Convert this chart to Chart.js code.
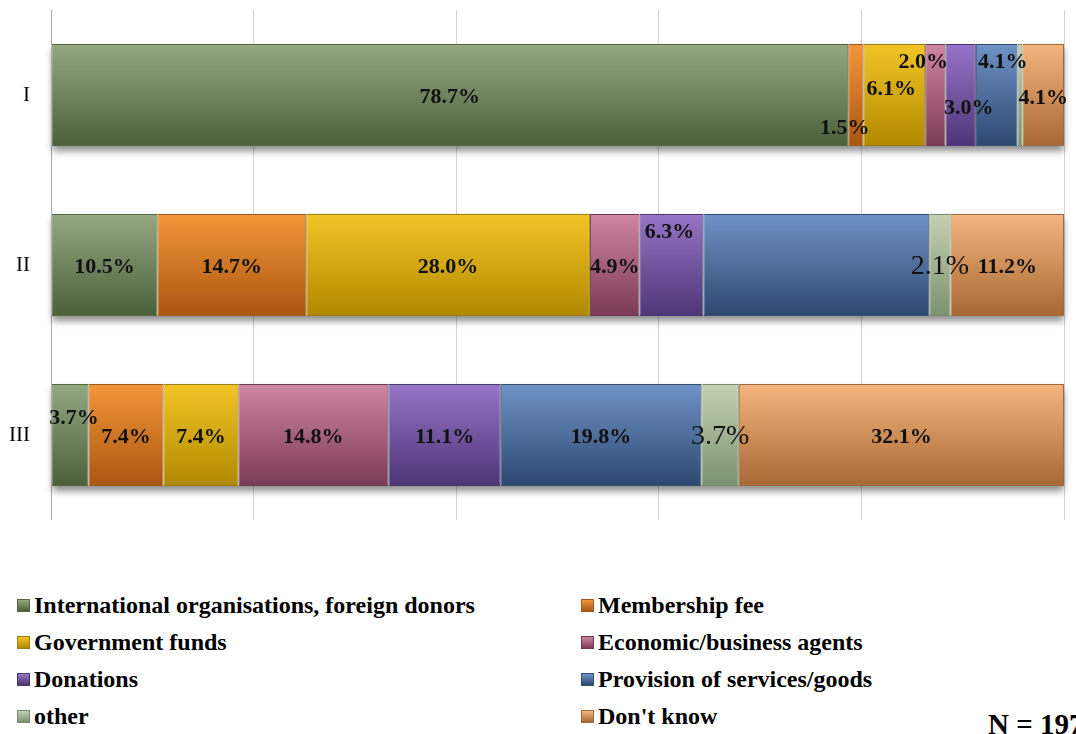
<!DOCTYPE html>
<html>
<head>
<meta charset="utf-8">
<script src="https://cdn.jsdelivr.net/npm/chart.js@4.4.1/dist/chart.umd.min.js"></script>
<style>
  body { margin: 0; width: 1076px; height: 734px; overflow: hidden; background: #fff; font-family: "Liberation Serif", serif; }
  #wrap { position: relative; width: 1076px; height: 734px; overflow: hidden; }
  #chartBox { position: absolute; left: 0; top: 0; width: 1076px; height: 540px; }
  #custom-legend { position: absolute; left: 17px; top: 587px; display: grid; grid-template-columns: 564px 440px; grid-auto-rows: 37px; }
  .legend-item { display: flex; align-items: center; font-weight: bold; font-size: 24px; color: #000; line-height: 37px; white-space: nowrap; }
  .legend-color-box { width: 13px; height: 13px; box-sizing: border-box; border: 1px solid; margin-right: 4px; }
  #nCount { position: absolute; left: 988px; top: 708px; font-weight: bold; font-size: 29px; white-space: nowrap; }
</style>
</head>
<body>
<div id="wrap">
  <div id="chartBox"><canvas id="miGrafica"></canvas></div>
  <div id="custom-legend"></div>
  <div id="nCount">N = 197</div>
</div>
<script>
// Data (percent of each group)
const groups = ['I', 'II', 'III'];
const seriesNames = [
  'International organisations, foreign donors',
  'Membership fee',
  'Government funds',
  'Economic/business agents',
  'Donations',
  'Provision of services/goods',
  'other',
  "Don't know"
];
const intlDonors = [78.7, 10.5, 3.7];
const membershipFee = [1.5, 14.7, 7.4];
const governmentFunds = [6.1, 28.0, 7.4];
const businessAgents = [2.0, 4.9, 14.8];
const donations = [3.0, 6.3, 11.1];
const provisionServices = [4.1, 22.3, 19.8];
const otherSources = [0.5, 2.1, 3.7];
const dontKnow = [4.1, 11.2, 32.1];

const seriesValues = [intlDonors, membershipFee, governmentFunds, businessAgents,
  donations, provisionServices, otherSources, dontKnow];

// top colour, bottom colour, border colour for each series
const palette = [
  ['#94a982', '#4b5f3b', '#56693f'],
  ['#f3963a', '#a9560f', '#a05a20'],
  ['#f2c526', '#b08900', '#9c7d10'],
  ['#cf86a0', '#7a3a55', '#6e3a50'],
  ['#9675c6', '#4d3577', '#4a3870'],
  ['#6f93c6', '#2d4870', '#34506e'],
  ['#c3d1b3', '#7c9270', '#7a8a6c'],
  ['#f4b57e', '#a86833', '#a06a40']
];

/**
 * Vertical gradient per bar, built from the category scale
 */
function barFill(top, bottom) {
  return (ctx) => {
    const chart = ctx.chart;
    const y = chart.scales.y;
    if (!chart.chartArea || !y || ctx.type !== 'data') return bottom;
    const c = y.getPixelForValue(ctx.dataIndex);
    const half = Math.abs(y.getPixelForValue(1) - y.getPixelForValue(0)) * 0.3;
    const g = chart.ctx.createLinearGradient(0, c - half, 0, c + half);
    g.addColorStop(0, top);
    g.addColorStop(1, bottom);
    return g;
  };
}

// Drop shadow under each full bar
const barShadow = {
  id: 'barShadow',
  beforeDatasetsDraw(chart) {
    const ctx = chart.ctx;
    const first = chart.getDatasetMeta(0).data;
    const last = chart.getDatasetMeta(chart.data.datasets.length - 1).data;
    ctx.save();
    ctx.shadowColor = 'rgba(0,0,0,0.45)';
    ctx.shadowBlur = 7;
    ctx.shadowOffsetY = 5;
    ctx.fillStyle = '#fff';
    first.forEach((el, i) => {
      const a = el.getProps(['y', 'base', 'height'], true);
      const b = last[i].getProps(['x'], true);
      ctx.fillRect(a.base, a.y - a.height / 2, b.x - a.base, a.height);
    });
    ctx.restore();
  }
};

// Percent labels on the segments
const segmentLabels = {
  id: 'segmentLabels',
  afterDatasetsDraw(chart, args, opts) {
    const ctx = chart.ctx;
    ctx.save();
    ctx.textAlign = 'center';
    ctx.textBaseline = 'middle';
    ctx.fillStyle = '#111';
    chart.data.datasets.forEach((ds, s) => {
      chart.getDatasetMeta(s).data.forEach((el, i) => {
        const key = s + ',' + i;
        if (opts.skip.includes(key)) return;
        const p = el.getProps(['x', 'y', 'base'], true);
        const off = opts.offsets[key] || [0, 2];
        ctx.font = s === opts.plainSeries ? opts.plainFont : opts.font;
        ctx.fillText(ds.data[i].toFixed(1) + '%', (p.x + p.base) / 2 + off[0], p.y + off[1]);
      });
    });
    ctx.restore();
  }
};

const datasets = seriesValues.map((vals, s) => ({
  label: seriesNames[s],
  data: vals,
  backgroundColor: barFill(palette[s][0], palette[s][1]),
  borderColor: palette[s][2],
  borderWidth: 1,
  borderSkipped: false,
  barPercentage: 0.6,
  categoryPercentage: 1.0
}));

const miGrafica = new Chart(document.getElementById('miGrafica').getContext('2d'), {
  type: 'bar',
  data: { labels: groups, datasets },
  options: {
    indexAxis: 'y',
    responsive: true,
    maintainAspectRatio: false,
    animation: false,
    layout: { padding: { left: 0, right: 12, top: 10, bottom: 20 } },
    scales: {
      x: {
        stacked: true,
        min: 0,
        max: 100,
        ticks: { display: false, stepSize: 20 },
        grid: {
          drawTicks: false,
          color: (c) => (c.tick && c.tick.value === 0 ? '#a8a8a8' : '#d4d4d4')
        },
        border: { display: false },
        afterFit: (scale) => {
          scale.height = 0;
          scale.paddingLeft = 0;
          scale.paddingRight = 0;
        }
      },
      y: {
        stacked: true,
        grid: { display: false, drawTicks: false },
        border: { display: false },
        ticks: { padding: 21, color: '#000', font: { family: 'Liberation Serif', size: 21 } },
        afterFit: (scale) => {
          scale.width = 51;
          scale.paddingTop = 0;
          scale.paddingBottom = 0;
        }
      }
    },
    plugins: {
      legend: { display: false },
      tooltip: { enabled: false },
      segmentLabels: {
        font: 'bold 22px "Liberation Serif"',
        plainFont: '28px "Liberation Serif"',
        plainSeries: 6,
        skip: ['6,0', '5,1'],
        offsets: {
          '1,0': [-11, 33], '2,0': [-3, -6], '3,0': [-12, -33], '4,0': [8, 13],
          '5,0': [6, -33], '7,0': [0, 3], '4,1': [-2, -33], '0,2': [4, -17]
        }
      }
    }
  },
  plugins: [barShadow, segmentLabels]
});

// HTML legend in two columns
function generarLeyendaHTML(chart) {
  const legendContainer = document.getElementById('custom-legend');
  legendContainer.innerHTML = '';
  chart.data.datasets.forEach((ds, s) => {
    const item = document.createElement('div');
    item.className = 'legend-item';
    const box = document.createElement('span');
    box.className = 'legend-color-box';
    box.style.background = `linear-gradient(${palette[s][0]}, ${palette[s][1]})`;
    box.style.borderColor = palette[s][2];
    const name = document.createElement('span');
    name.textContent = ds.label;
    item.appendChild(box);
    item.appendChild(name);
    legendContainer.appendChild(item);
  });
}
generarLeyendaHTML(miGrafica);
</script>
</body>
</html>
